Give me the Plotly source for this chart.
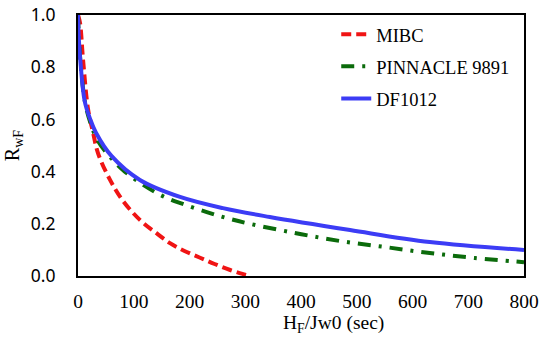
import plotly.graph_objects as go

# Data
mibc_x = [0, 3.6, 9, 18, 27, 36, 57, 80, 111, 140, 165, 190, 219, 245, 273, 295, 310]
mibc_y = [1.0, 0.97, 0.83, 0.64, 0.55, 0.47, 0.37, 0.29, 0.215, 0.165, 0.126, 0.097, 0.07, 0.046, 0.023, 0.008, 0.0]

pin_x = [0, 2, 6, 14, 25, 35, 60, 84, 117, 152, 188, 231, 267, 308, 389, 470, 551, 631, 712, 800]
pin_y = [1.0, 0.9, 0.78, 0.65, 0.57, 0.52, 0.45, 0.40, 0.349, 0.306, 0.276, 0.245, 0.222, 0.20, 0.165, 0.134, 0.111, 0.088, 0.069, 0.053]

df_x = [0, 1, 4, 12, 22, 32, 60, 111, 183, 260, 344, 488, 631, 800]
df_y = [1.0, 0.93, 0.83, 0.67, 0.60, 0.55, 0.46, 0.368, 0.303, 0.26, 0.226, 0.176, 0.13, 0.10]

x_ticks = [0, 100, 200, 300, 400, 500, 600, 700, 800]
y_ticks = [0.0, 0.2, 0.4, 0.6, 0.8, 1.0]

x_title = "H<sub>F</sub>/Jw0 (sec)"
y_title = "R<sub>wF</sub>"

SERIF = "Liberation Serif"

fig = go.Figure()
fig.add_trace(go.Scatter(x=mibc_x, y=mibc_y, mode="lines", name="MIBC", legendgroup="a",
                         line=dict(color="#f01414", width=4, dash="10px,5px", shape="spline")))
fig.add_trace(go.Scatter(x=pin_x, y=pin_y, mode="lines", name="PINNACLE 9891", legendgroup="b",
                         line=dict(color="#0b6b0b", width=4, dash="13px,8px,3px,8px", shape="spline")))
fig.add_trace(go.Scatter(x=df_x, y=df_y, mode="lines", name="DF1012", legendgroup="c",
                         line=dict(color="#3c3cf5", width=4, shape="spline")))

fig.add_annotation(text=x_title, xref="paper", yref="paper", x=0.572, y=-0.182,
                   xanchor="center", yanchor="middle", showarrow=False,
                   font=dict(family=SERIF, size=19.5, color="black"))

fig.update_layout(
    width=550, height=342,
    margin=dict(l=78, r=26, t=15, b=66),
    paper_bgcolor="white", plot_bgcolor="white",
    showlegend=True,
    legend=dict(x=0.579, y=0.997, xanchor="left", yanchor="top",
                font=dict(family=SERIF, size=18.5, color="black"),
                bgcolor="rgba(0,0,0,0)", tracegroupgap=5),
    xaxis=dict(range=[0, 800], tickvals=x_ticks, ticktext=[str(v) for v in x_ticks],
               showgrid=False, zeroline=False, showline=True, linecolor="black", linewidth=2,
               mirror=True, ticks="", automargin=False, ticklabelstandoff=7,
               ticklabeloverflow="allow",
               tickfont=dict(family=SERIF, size=19.5, color="black")),
    yaxis=dict(range=[0, 1.0], tickvals=y_ticks, ticktext=[f"{v:.1f}" for v in y_ticks],
               showgrid=False, zeroline=False, showline=True, linecolor="black", linewidth=2,
               mirror=True, ticks="", automargin=False, ticklabelstandoff=17,
               ticklabeloverflow="allow",
               tickfont=dict(family="Noto Sans", size=17.5, color="black"),
               title=dict(text=y_title, standoff=6,
                          font=dict(family=SERIF, size=20, color="black"))),
)

fig.write_html("out.html", config={"displayModeBar": False},
               post_script="document.body.style.margin='0';document.body.style.overflow='hidden';")
